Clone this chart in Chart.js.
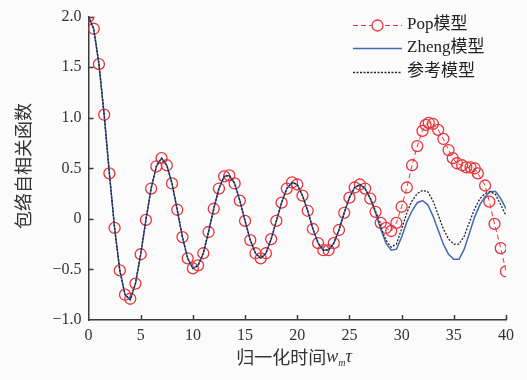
<!DOCTYPE html>
<html>
<head>
<meta charset="utf-8">
<script src="https://cdn.jsdelivr.net/npm/chart.js@4/dist/chart.umd.min.js"></script>
<style>
  html, body { margin: 0; padding: 0; background: #fff; }
  #wrap { width: 527px; height: 380px; }
</style>
</head>
<body>
<div id="wrap"><canvas id="c" width="527" height="380"></canvas></div>
<script>
// Pop model samples (x, y)
const popX = [0, 0.5, 1, 1.5, 2, 2.5, 3, 3.5, 4, 4.5, 5, 5.5, 6, 6.5, 7, 7.5, 8, 8.5, 9, 9.5,
  10, 10.5, 11, 11.5, 12, 12.5, 13, 13.5, 14, 14.5, 15, 15.5, 16, 16.5, 17, 17.5, 18, 18.5, 19, 19.5,
  20, 20.5, 21, 21.5, 22, 22.5, 23, 23.5, 24, 24.5, 25, 25.5, 26, 26.5, 27, 27.5, 28, 28.5, 29, 29.5,
  30, 30.5, 31, 31.5, 32, 32.3, 32.6, 33, 33.5, 34, 34.5, 34.9, 35.3, 35.8, 36.2, 36.6, 37, 37.3, 38, 38.4,
  38.9, 39.5, 40];
const popY = [2.00, 1.88, 1.53, 1.03, 0.45, -0.09, -0.51, -0.75, -0.79, -0.64, -0.35, -0.01, 0.30, 0.52, 0.60, 0.53, 0.35, 0.09, -0.18, -0.39,
  -0.49, -0.46, -0.34, -0.13, 0.10, 0.30, 0.42, 0.43, 0.35, 0.18, -0.02, -0.21, -0.34, -0.39, -0.34, -0.20, -0.02, 0.16, 0.30, 0.36,
  0.34, 0.23, 0.08, -0.10, -0.24, -0.31, -0.31, -0.24, -0.11, 0.06, 0.21, 0.31, 0.34, 0.30, 0.20, 0.07, -0.04, -0.09, -0.12, -0.04,
  0.12, 0.31, 0.53, 0.72, 0.87, 0.93, 0.95, 0.94, 0.88, 0.79, 0.68, 0.60, 0.55, 0.53, 0.51, 0.51, 0.50, 0.45, 0.33, 0.17,
  -0.05, -0.29, -0.52];

// Zheng model and reference model, sampled every 0.5
const lineX = [0, 0.5, 1, 1.5, 2, 2.5, 3, 3.5, 4, 4.5, 5, 5.5, 6, 6.5, 7, 7.5, 8, 8.5, 9, 9.5,
  10, 10.5, 11, 11.5, 12, 12.5, 13, 13.5, 14, 14.5, 15, 15.5, 16, 16.5, 17, 17.5, 18, 18.5, 19, 19.5,
  20, 20.5, 21, 21.5, 22, 22.5, 23, 23.5, 24, 24.5, 25, 25.5, 26, 26.5, 27, 27.5, 28, 28.5, 29, 29.5,
  30, 30.5, 31, 31.5, 32, 32.5, 33, 33.5, 34, 34.5, 35, 35.5, 36, 36.5, 37, 37.5, 38, 38.5, 39, 39.5, 40];
const zhengY = [2.00, 1.88, 1.53, 1.03, 0.45, -0.09, -0.51, -0.75, -0.80, -0.64, -0.35, -0.01, 0.30, 0.52, 0.60, 0.53, 0.35, 0.09, -0.18, -0.39,
  -0.49, -0.46, -0.34, -0.13, 0.10, 0.30, 0.42, 0.43, 0.35, 0.18, -0.02, -0.21, -0.34, -0.39, -0.34, -0.20, -0.02, 0.16, 0.30, 0.36,
  0.34, 0.23, 0.08, -0.10, -0.24, -0.31, -0.31, -0.24, -0.11, 0.06, 0.21, 0.31, 0.34, 0.30, 0.20, 0.06, -0.10, -0.24, -0.31, -0.30,
  -0.18, -0.03, 0.08, 0.16, 0.18, 0.14, 0.03, -0.11, -0.25, -0.35, -0.40, -0.40, -0.30, -0.14, 0.02, 0.14, 0.22, 0.27, 0.27, 0.20, 0.10];
const refY = [2.00, 1.88, 1.53, 1.03, 0.45, -0.09, -0.51, -0.75, -0.80, -0.64, -0.35, -0.01, 0.30, 0.52, 0.60, 0.53, 0.35, 0.09, -0.18, -0.39,
  -0.49, -0.46, -0.34, -0.13, 0.10, 0.30, 0.42, 0.43, 0.35, 0.18, -0.02, -0.21, -0.34, -0.39, -0.34, -0.20, -0.02, 0.16, 0.30, 0.36,
  0.34, 0.23, 0.08, -0.10, -0.24, -0.31, -0.31, -0.24, -0.11, 0.06, 0.21, 0.31, 0.34, 0.30, 0.20, 0.08, -0.08, -0.21, -0.28, -0.25,
  -0.10, 0.06, 0.18, 0.25, 0.28, 0.27, 0.18, 0.04, -0.10, -0.20, -0.25, -0.25, -0.17, -0.03, 0.10, 0.20, 0.25, 0.27, 0.24, 0.14, 0.03];

const seriesNames = ['Pop模型', 'Zheng模型', '参考模型'];
const xTicks = [0, 5, 10, 15, 20, 25, 30, 35, 40];
const yTicks = [-1.0, -0.5, 0, 0.5, 1.0, 1.5, 2.0];

const RED = '#e8353a';
const BLUE = '#4169b0';
const DARK = '#222';
const AXIS = '#3a3a3a';
const tickFont = { family: "'Liberation Serif', 'DejaVu Serif', serif", size: 16 };
const cjk = "'Noto Sans CJK SC', sans-serif";

const pts = (xs, ys) => xs.map((x, i) => ({ x, y: ys[i] }));
const fmt = v => v === 0 ? '0' : v.toFixed(1).replace('-', '\u2212');

const bgPlugin = {
    id: 'bg',
    beforeDraw(chart) {
        const ctx = chart.ctx;
        ctx.save();
        ctx.fillStyle = '#fbfbfb';
        ctx.fillRect(0, 0, chart.width, chart.height);
        ctx.restore();
    }
};

// inward tick marks, legend and axis titles
const decorPlugin = {
    id: 'decor',
    afterDraw(chart) {
        const ctx = chart.ctx;
        const xs = chart.scales.x, ys = chart.scales.y;
        const area = chart.chartArea;
        ctx.save();
        ctx.strokeStyle = AXIS;
        ctx.lineWidth = 1.5;
        ctx.beginPath();
        xTicks.forEach(v => {
            if (v === 0) return;
            const px = Math.round(xs.getPixelForValue(v)) + 0.5;
            ctx.moveTo(px, area.bottom);
            ctx.lineTo(px, area.bottom - 5);
        });
        yTicks.forEach(v => {
            if (v === -1) return;
            const py = Math.round(ys.getPixelForValue(v)) + 0.5;
            ctx.moveTo(area.left, py);
            ctx.lineTo(area.left + 5, py);
        });
        ctx.stroke();

        // legend
        const lx0 = 353, lx1 = 402, tx = 407;
        const rows = [25, 48, 72];
        chart.data.datasets.forEach((ds, i) => {
            const y = rows[i] + 0.5;
            ctx.beginPath();
            ctx.strokeStyle = ds.borderColor;
            ctx.lineWidth = ds.borderWidth;
            ctx.setLineDash(ds.borderDash || []);
            ctx.moveTo(lx0, y);
            ctx.lineTo(lx1, y);
            ctx.stroke();
            ctx.setLineDash([]);
            if (ds.pointRadius > 0) {
                ctx.beginPath();
                ctx.lineWidth = ds.pointBorderWidth;
                ctx.strokeStyle = ds.pointBorderColor;
                ctx.fillStyle = '#fbfbfb';
                ctx.arc((lx0 + lx1) / 2, y, ds.pointRadius, 0, Math.PI * 2);
                ctx.fill();
                ctx.stroke();
            }
            ctx.fillStyle = '#222';
            ctx.textBaseline = 'middle';
            ctx.textAlign = 'left';
            ctx.font = "17px 'Liberation Serif', " + cjk;
            ctx.fillText(seriesNames[i], tx, rows[i]);
        });

        // y title
        ctx.save();
        ctx.translate(23, 166);
        ctx.rotate(-Math.PI / 2);
        ctx.font = '18px ' + cjk;
        ctx.fillStyle = '#333';
        ctx.textAlign = 'center';
        ctx.textBaseline = 'middle';
        ctx.fillText('包络自相关函数', 0, 0);
        ctx.restore();

        // x title: 归一化时间 w_m τ
        const parts = [
            { t: '归一化时间', f: '18px ' + cjk, dy: 0 },
            { t: 'w', f: "italic 18px 'Liberation Serif', serif", dy: 0 },
            { t: 'm', f: "italic 10px 'Liberation Serif', serif", dy: 6 },
            { t: 'τ', f: "italic 18px 'Liberation Serif', serif", dy: 0 }
        ];
        let total = 0;
        parts.forEach(p => { ctx.font = p.f; p.w = ctx.measureText(p.t).width; total += p.w; });
        let cx = 294 - total / 2;
        ctx.fillStyle = '#333';
        ctx.textAlign = 'left';
        ctx.textBaseline = 'middle';
        parts.forEach(p => {
            ctx.font = p.f;
            ctx.fillText(p.t, cx, 357 + p.dy);
            cx += p.w;
        });
        ctx.restore();
    }
};

new Chart(document.getElementById('c'), {
    type: 'scatter',
    data: {
        datasets: [
            {
                label: seriesNames[0],
                data: pts(popX, popY),
                order: 2,
                showLine: true,
                borderColor: RED,
                borderWidth: 1,
                borderDash: [5, 3],
                pointRadius: 5.5,
                pointBorderWidth: 1.3,
                pointBorderColor: RED,
                pointBackgroundColor: 'rgba(0,0,0,0)',
                tension: 0
            },
            {
                label: seriesNames[1],
                data: pts(lineX, zhengY),
                order: 1,
                showLine: true,
                borderColor: BLUE,
                borderWidth: 1.5,
                pointRadius: 0,
                tension: 0
            },
            {
                label: seriesNames[2],
                data: pts(lineX, refY),
                order: 0,
                showLine: true,
                borderColor: DARK,
                borderWidth: 1.3,
                borderDash: [2, 1.5],
                pointRadius: 0,
                tension: 0
            }
        ]
    },
    options: {
        responsive: false,
        animation: false,
        layout: { padding: { top: 15, right: 21, left: 0, bottom: 0 } },
        plugins: { legend: { display: false }, tooltip: { enabled: false } },
        scales: {
            x: {
                type: 'linear',
                min: 0, max: 40,
                afterBuildTicks: s => { s.ticks = xTicks.map(v => ({ value: v })); },
                afterFit: s => { s.height = 60; },
                grid: { display: true, drawOnChartArea: false, drawTicks: false },
                border: { color: AXIS, width: 1.5 },
                ticks: { color: '#333', font: tickFont, padding: 6, maxRotation: 0, callback: v => String(v) }
            },
            y: {
                type: 'linear',
                min: -1, max: 2,
                afterBuildTicks: s => { s.ticks = yTicks.map(v => ({ value: v })); },
                afterFit: s => { s.width = 88.5; },
                grid: { display: true, drawOnChartArea: false, drawTicks: false },
                border: { color: AXIS, width: 1.5 },
                ticks: { color: '#333', font: tickFont, padding: 7, callback: v => fmt(v) }
            }
        }
    },
    plugins: [bgPlugin, decorPlugin]
});
</script>
</body>
</html>
